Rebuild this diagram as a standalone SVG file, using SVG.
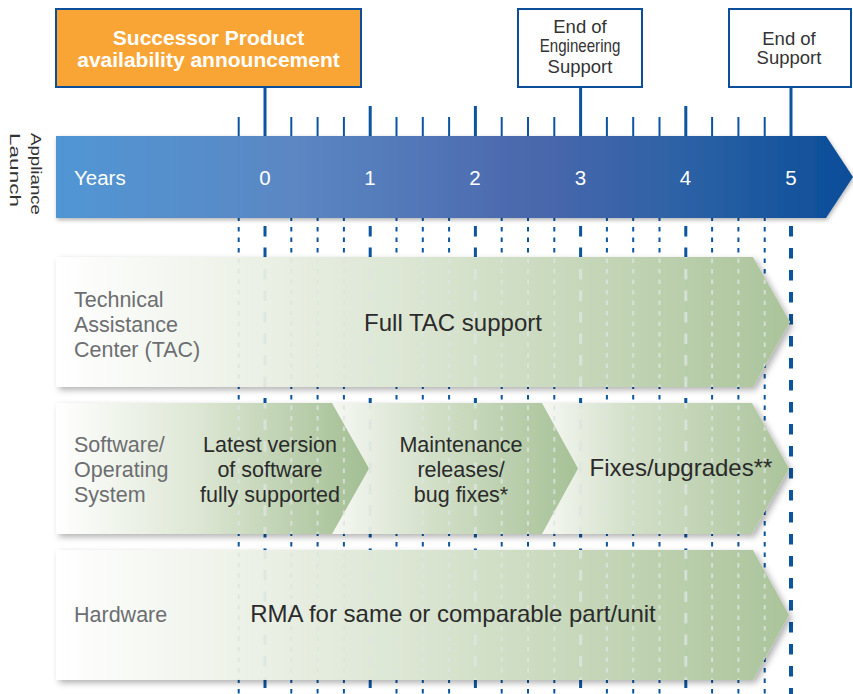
<svg xmlns="http://www.w3.org/2000/svg" xmlns:xlink="http://www.w3.org/1999/xlink" width="853" height="694" viewBox="0 0 853 694">
<style>
text{font-family:"Liberation Sans",Arial,sans-serif}
.lbl{font-size:21.5px;fill:#6D6E71}
.big{font-size:24px;fill:#2B2B2B;text-anchor:middle}
.mid{font-size:21.5px;fill:#2B2B2B;text-anchor:middle}
.yr{font-size:20.5px;fill:#FFFFFF;text-anchor:middle}
.box{fill:#FFFFFF;stroke:#0B4F9A;stroke-width:2}
.boxt{font-size:18.5px;fill:#333333;text-anchor:middle}
.tk{stroke:#0B55A0;stroke-width:2}
.tkM{stroke:#0B55A0;stroke-width:3}
.mn{stroke-width:2;stroke-dasharray:4.5 6}
.mj{stroke-width:3;stroke-dasharray:10.5 11}
.end{stroke-width:4;stroke-dasharray:10.5 11.5}
</style>
<defs>
<linearGradient id="barG" x1="56" y1="0" x2="853" y2="0" gradientUnits="userSpaceOnUse">
<stop offset="0" stop-color="#5096D4"/>
<stop offset="0.3" stop-color="#5B87C3"/>
<stop offset="0.6" stop-color="#4A67AC"/>
<stop offset="0.78" stop-color="#2E62A6"/>
<stop offset="1" stop-color="#0A4D98"/>
</linearGradient>
<linearGradient id="rowG" x1="56" y1="0" x2="790" y2="0" gradientUnits="userSpaceOnUse">
<stop offset="0" stop-color="#FFFFFF"/>
<stop offset="0.25" stop-color="#EDF2E8"/>
<stop offset="0.5" stop-color="#DAE5D1"/>
<stop offset="0.75" stop-color="#C3D5B6"/>
<stop offset="1" stop-color="#ABC49B"/>
</linearGradient>
<linearGradient id="sw1" x1="56" y1="0" x2="369" y2="0" gradientUnits="userSpaceOnUse">
<stop offset="0" stop-color="#FFFFFF"/>
<stop offset="0.45" stop-color="#DDE7D4"/>
<stop offset="1" stop-color="#A2BE92"/>
</linearGradient>
<linearGradient id="sw2" x1="332" y1="0" x2="578" y2="0" gradientUnits="userSpaceOnUse">
<stop offset="0" stop-color="#F6F8F3"/>
<stop offset="0.4" stop-color="#D3E0C9"/>
<stop offset="1" stop-color="#A6C196"/>
</linearGradient>
<linearGradient id="sw3" x1="542" y1="0" x2="789" y2="0" gradientUnits="userSpaceOnUse">
<stop offset="0" stop-color="#F6F8F3"/>
<stop offset="0.35" stop-color="#D3E0C9"/>
<stop offset="1" stop-color="#ABC49B"/>
</linearGradient>
<filter id="sh" x="-5%" y="-10%" width="115%" height="130%">
<feDropShadow dx="3" dy="3" stdDeviation="3" flood-color="#000000" flood-opacity="0.3"/>
</filter>
<filter id="shB" x="-5%" y="-10%" width="115%" height="130%">
<feDropShadow dx="1" dy="2" stdDeviation="2" flood-color="#000000" flood-opacity="0.3"/>
</filter>
<clipPath id="rowsClip">
<path d="M56,257H753L790,322L753,387H56Z"/>
<path d="M56,403H752L789,468.5L752,534H56Z"/>
<path d="M56,550H753L789,615L753,680H56Z"/>
</clipPath>
<g id="grid">
<line class="mn" x1="238.7" y1="216.5" x2="238.7" y2="694"/>
<line class="mj" x1="265" y1="226" x2="265" y2="694"/>
<line class="mn" x1="291.3" y1="216.5" x2="291.3" y2="694"/>
<line class="mn" x1="317.6" y1="216.5" x2="317.6" y2="694"/>
<line class="mn" x1="343.9" y1="216.5" x2="343.9" y2="694"/>
<line class="mj" x1="370.2" y1="226" x2="370.2" y2="694"/>
<line class="mn" x1="396.5" y1="216.5" x2="396.5" y2="694"/>
<line class="mn" x1="422.8" y1="216.5" x2="422.8" y2="694"/>
<line class="mn" x1="449.1" y1="216.5" x2="449.1" y2="694"/>
<line class="mj" x1="475.4" y1="226" x2="475.4" y2="694"/>
<line class="mn" x1="501.7" y1="216.5" x2="501.7" y2="694"/>
<line class="mn" x1="528" y1="216.5" x2="528" y2="694"/>
<line class="mn" x1="554.3" y1="216.5" x2="554.3" y2="694"/>
<line class="mj" x1="580.6" y1="226" x2="580.6" y2="694"/>
<line class="mn" x1="606.9" y1="216.5" x2="606.9" y2="694"/>
<line class="mn" x1="633.2" y1="216.5" x2="633.2" y2="694"/>
<line class="mn" x1="659.5" y1="216.5" x2="659.5" y2="694"/>
<line class="mj" x1="685.8" y1="226" x2="685.8" y2="694"/>
<line class="mn" x1="712.1" y1="216.5" x2="712.1" y2="694"/>
<line class="mn" x1="738.4" y1="216.5" x2="738.4" y2="694"/>
<line class="mn" x1="764.7" y1="216.5" x2="764.7" y2="694"/>
<line class="end" x1="791" y1="226" x2="791" y2="694"/>
</g>
</defs>

<g id="connectors">
<use xlink:href="#grid" href="#grid" stroke="#0B55A0"/>
<line class="tk" x1="238.7" y1="117" x2="238.7" y2="137"/>
<line class="tk" x1="291.3" y1="117" x2="291.3" y2="137"/>
<line class="tk" x1="317.6" y1="117" x2="317.6" y2="137"/>
<line class="tk" x1="343.9" y1="117" x2="343.9" y2="137"/>
<line class="tkM" x1="370.2" y1="106" x2="370.2" y2="137"/>
<line class="tk" x1="396.5" y1="117" x2="396.5" y2="137"/>
<line class="tk" x1="422.8" y1="117" x2="422.8" y2="137"/>
<line class="tk" x1="449.1" y1="117" x2="449.1" y2="137"/>
<line class="tkM" x1="475.4" y1="106" x2="475.4" y2="137"/>
<line class="tk" x1="501.7" y1="117" x2="501.7" y2="137"/>
<line class="tk" x1="528" y1="117" x2="528" y2="137"/>
<line class="tk" x1="554.3" y1="117" x2="554.3" y2="137"/>
<line class="tk" x1="606.9" y1="117" x2="606.9" y2="137"/>
<line class="tk" x1="633.2" y1="117" x2="633.2" y2="137"/>
<line class="tk" x1="659.5" y1="117" x2="659.5" y2="137"/>
<line class="tkM" x1="685.8" y1="106" x2="685.8" y2="137"/>
<line class="tk" x1="712.1" y1="117" x2="712.1" y2="137"/>
<line class="tk" x1="738.4" y1="117" x2="738.4" y2="137"/>
<line class="tk" x1="764.7" y1="117" x2="764.7" y2="137"/>
<line class="tkM" x1="265" y1="88" x2="265" y2="137"/>
<line class="tkM" x1="580.6" y1="88" x2="580.6" y2="137"/>
<line class="tkM" x1="791" y1="88" x2="791" y2="137"/>
</g>

<g id="successor">
<rect x="56" y="9" width="305" height="78" fill="#F8A535" stroke="#0B4F9A" stroke-width="2"/>
<text x="208.5" y="45" font-size="21" font-weight="bold" fill="#FFFFFF" text-anchor="middle">Successor Product</text>
<text x="208.5" y="67" font-size="21" font-weight="bold" fill="#FFFFFF" text-anchor="middle">availability announcement</text>
</g>
<g id="end-eng">
<rect class="box" x="518" y="9" width="124" height="78"/>
<text class="boxt" x="580" y="33">End of</text>
<text class="boxt" transform="translate(580,52) scale(0.84,1)" x="0" y="0" style="font-size:18px">Engineering</text>
<text class="boxt" x="580" y="72.5">Support</text>
</g>
<g id="end-support">
<rect class="box" x="729" y="9" width="122" height="78"/>
<text class="boxt" x="789" y="45">End of</text>
<text class="boxt" x="789" y="64">Support</text>
</g>

<g id="bar">
<path d="M56,136H826L853,177L826,218H56Z" fill="url(#barG)" filter="url(#shB)"/>
<text x="74" y="185" font-size="20.5" fill="#FFFFFF">Years</text>
<text class="yr" x="265" y="185">0</text>
<text class="yr" x="370" y="185">1</text>
<text class="yr" x="475" y="185">2</text>
<text class="yr" x="580.5" y="185">3</text>
<text class="yr" x="685.5" y="185">4</text>
<text class="yr" x="791" y="185">5</text>
</g>
<g id="launch">
<text transform="translate(31,133) rotate(90)" font-size="15.5" fill="#333333"><tspan x="0" y="0" textLength="82" lengthAdjust="spacingAndGlyphs">Appliance</tspan><tspan x="0" y="21" textLength="74" lengthAdjust="spacingAndGlyphs">Launch</tspan></text>
</g>

<g id="tac">
<path d="M56,257H753L790,322L753,387H56Z" fill="url(#rowG)" filter="url(#sh)"/>
</g>
<g id="software">
<g filter="url(#sh)">
<path d="M542,403H752L789,468.5L752,534H542Z" fill="url(#sw3)"/>
<path d="M332,403H542L578,468.5L542,534H332Z" fill="url(#sw2)"/>
<path d="M56,403H332L369,468.5L332,534H56Z" fill="url(#sw1)"/>
</g>
</g>
<g id="hardware">
<path d="M56,550H753L789,615L753,680H56Z" fill="url(#rowG)" filter="url(#sh)"/>
</g>

<use xlink:href="#grid" href="#grid" stroke="#DCE5E2" opacity="0.8" clip-path="url(#rowsClip)"/>

<g id="tac-text">
<text class="lbl" x="74" y="307">Technical</text>
<text class="lbl" x="74" y="332">Assistance</text>
<text class="lbl" x="74" y="357">Center (TAC)</text>
<text class="big" x="453" y="330.5">Full TAC support</text>
</g>
<g id="software-text">
<text class="lbl" x="74" y="452">Software/</text>
<text class="lbl" x="74" y="477">Operating</text>
<text class="lbl" x="74" y="502">System</text>
<text class="mid" x="270" y="452">Latest version</text>
<text class="mid" x="270" y="477">of software</text>
<text class="mid" x="270" y="502">fully supported</text>
<text class="mid" x="461" y="452">Maintenance</text>
<text class="mid" x="461" y="477">releases/</text>
<text class="mid" x="461" y="502">bug fixes*</text>
<text class="big" x="681" y="476">Fixes/upgrades**</text>
</g>
<g id="hardware-text">
<text class="lbl" x="74" y="622">Hardware</text>
<text class="big" x="453" y="622">RMA for same or comparable part/unit</text>
</g>
</svg>
